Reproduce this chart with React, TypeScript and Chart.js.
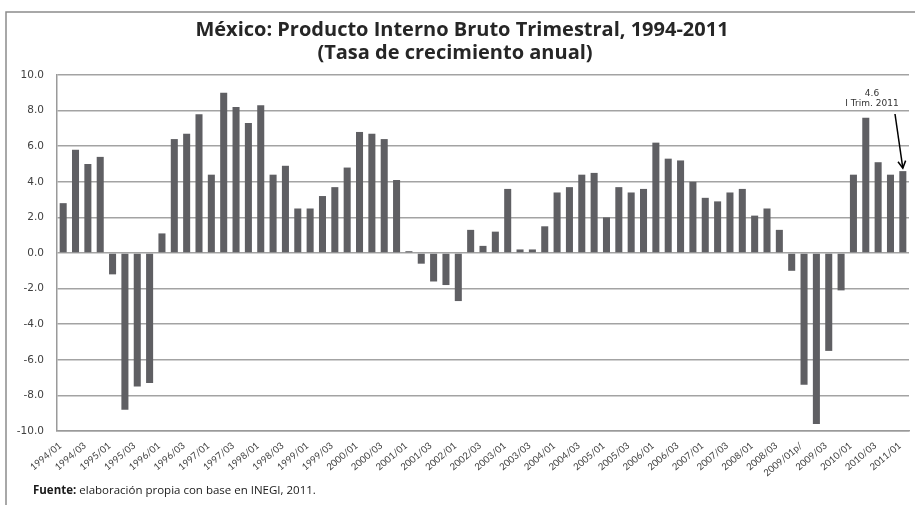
import React, { useEffect, useRef } from "react";
import { Chart, registerables } from "chart.js";

Chart.register(...registerables);

const categories = [
  "1994/01", "1994/02", "1994/03", "1994/04",
  "1995/01", "1995/02", "1995/03", "1995/04",
  "1996/01", "1996/02", "1996/03", "1996/04",
  "1997/01", "1997/02", "1997/03", "1997/04",
  "1998/01", "1998/02", "1998/03", "1998/04",
  "1999/01", "1999/02", "1999/03", "1999/04",
  "2000/01", "2000/02", "2000/03", "2000/04",
  "2001/01", "2001/02", "2001/03", "2001/04",
  "2002/01", "2002/02", "2002/03", "2002/04",
  "2003/01", "2003/02", "2003/03", "2003/04",
  "2004/01", "2004/02", "2004/03", "2004/04",
  "2005/01", "2005/02", "2005/03", "2005/04",
  "2006/01", "2006/02", "2006/03", "2006/04",
  "2007/01", "2007/02", "2007/03", "2007/04",
  "2008/01", "2008/02", "2008/03", "2008/04",
  "2009/01p/", "2009/02", "2009/03", "2009/04",
  "2010/01", "2010/02", "2010/03", "2010/04",
  "2011/01",
];

const growth = [
  2.8, 5.8, 5.0, 5.4,
  -1.2, -8.8, -7.5, -7.3,
  1.1, 6.4, 6.7, 7.8,
  4.4, 9.0, 8.2, 7.3,
  8.3, 4.4, 4.9, 2.5,
  2.5, 3.2, 3.7, 4.8,
  6.8, 6.7, 6.4, 4.1,
  0.1, -0.6, -1.6, -1.8,
  -2.7, 1.3, 0.4, 1.2,
  3.6, 0.2, 0.2, 1.5,
  3.4, 3.7, 4.4, 4.5,
  2.0, 3.7, 3.4, 3.6,
  6.2, 5.3, 5.2, 4.0,
  3.1, 2.9, 3.4, 3.6,
  2.1, 2.5, 1.3, -1.0,
  -7.4, -9.6, -5.5, -2.1,
  4.4, 7.6, 5.1, 4.4,
  4.6,
];

const titleLines = [
  "México: Producto Interno Bruto Trimestral, 1994-2011",
  "(Tasa de crecimiento anual)",
];
const sourceBold = "Fuente:";
const sourceText = " elaboración propia con base en INEGI, 2011.";
const noteLines = ["4.6", "I Trim. 2011"];

const FONT = "Lato, 'Open Sans', sans-serif";
const WFONT = "'Open Sans', Lato, sans-serif";
const VFONT = "'DejaVu Sans', Verdana, sans-serif";

const decorPlugin = {
  id: "decor",
  beforeDraw(chart: any) {
    const ctx = chart.ctx;
    ctx.save();
    ctx.fillStyle = "#ffffff";
    ctx.fillRect(0, 0, chart.width, chart.height);
    ctx.strokeStyle = "#8c8c8c";
    ctx.lineWidth = 1.5;
    ctx.beginPath();
    ctx.moveTo(6, chart.height + 2);
    ctx.lineTo(6, 12);
    ctx.lineTo(chart.width + 2, 12);
    ctx.stroke();
    ctx.restore();
  },
  afterDraw(chart: any) {
    const ctx = chart.ctx;
    ctx.save();
    // title
    ctx.fillStyle = "#262626";
    ctx.textAlign = "center";
    ctx.textBaseline = "middle";
    ctx.font = `bold 20px ${WFONT}`;
    ctx.fillText(titleLines[0], 462, 30);
    ctx.fillText(titleLines[1], 455, 53);
    // source
    ctx.textAlign = "left";
    ctx.font = `bold 11.5px ${WFONT}`;
    ctx.fillStyle = "#1a1a1a";
    ctx.fillText(sourceBold, 33, 491);
    const w = ctx.measureText(sourceBold).width;
    ctx.font = `11.5px ${WFONT}`;
    ctx.fillText(sourceText, 33 + w, 491);
    // annotation
    const meta = chart.getDatasetMeta(0);
    const el = meta.data[meta.data.length - 1];
    ctx.font = `9px ${VFONT}`;
    ctx.fillStyle = "#333333";
    ctx.textAlign = "center";
    ctx.fillText(noteLines[0], 872, 94);
    ctx.fillText(noteLines[1], 872, 104);
    const x0 = 895, y0 = 114;
    const x1 = el.x, y1 = el.y - 3;
    ctx.strokeStyle = "#000000";
    ctx.lineWidth = 1.5;
    ctx.beginPath();
    ctx.moveTo(x0, y0);
    ctx.lineTo(x1, y1);
    ctx.stroke();
    const ang = Math.atan2(y1 - y0, x1 - x0);
    const hl = 8;
    ctx.beginPath();
    ctx.moveTo(x1 - hl * Math.cos(ang - 0.5), y1 - hl * Math.sin(ang - 0.5));
    ctx.lineTo(x1, y1);
    ctx.lineTo(x1 - hl * Math.cos(ang + 0.5), y1 - hl * Math.sin(ang + 0.5));
    ctx.stroke();
    ctx.restore();
  },
};

export default function App() {
  const ref = useRef<HTMLCanvasElement | null>(null);
  useEffect(() => {
    document.body.style.margin = "0";
    if (!ref.current) return;
    const chart = new Chart(ref.current, {
      type: "bar",
      data: {
        labels: categories,
        datasets: [
          {
            data: growth,
            backgroundColor: "#5f5f63",
            borderWidth: 0,
            barPercentage: 0.57,
            categoryPercentage: 1,
          },
        ],
      },
      options: {
        responsive: false,
        animation: false,
        devicePixelRatio: 1,
        layout: { padding: { top: 75, right: 6, left: 0, bottom: 0 } },
        plugins: {
          legend: { display: false },
          title: { display: false },
          tooltip: { enabled: false },
        },
        scales: {
          x: {
            grid: { display: false, drawTicks: false },
            border: { display: true, color: "#9a9a9a", width: 1.5 },
            afterFit: (s: any) => {
              s.height = 74;
              s.paddingLeft = 0;
              s.paddingRight = 0;
            },
            ticks: {
              autoSkip: false,
              minRotation: 40,
              maxRotation: 40,
              padding: 9,
              labelOffset: -3,
              color: "#404040",
              font: { family: FONT, size: 9.5 },
              callback: (_v: any, i: number) => (i % 2 === 0 ? categories[i] : ""),
            },
          },
          y: {
            min: -10,
            max: 10,
            afterFit: (s: any) => {
              s.width = 57;
              s.paddingTop = 0;
              s.paddingBottom = 0;
            },
            grid: { color: "#a3a3a3", lineWidth: 1.5, drawTicks: false },
            border: { display: true, color: "#9a9a9a", width: 1.5 },
            ticks: {
              stepSize: 2,
              padding: 13,
              color: "#404040",
              font: { family: VFONT, size: 10.5 },
              callback: (v: any) => Number(v).toFixed(1),
            },
          },
        },
      },
      plugins: [decorPlugin],
    });
    return () => chart.destroy();
  }, []);
  return (
    <div style={{ position: "absolute", left: 0, top: 0, width: 915, height: 505 }}>
      <canvas ref={ref} width={915} height={505} />
    </div>
  );
}
